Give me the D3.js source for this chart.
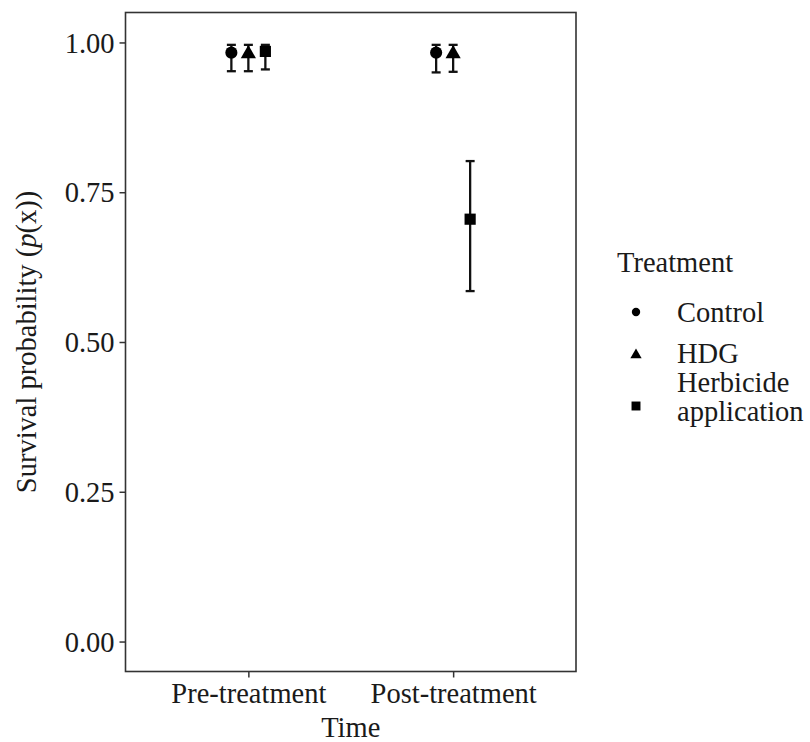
<!DOCTYPE html>
<html>
<head>
<meta charset="utf-8">
<script src="https://cdn.jsdelivr.net/npm/d3@7"></script>
<style>
  html, body { margin: 0; padding: 0; background: #fff; }
  svg { display: block; }
</style>
</head>
<body>
<svg id="chart" width="810" height="742"></svg>
<script>
// Survival estimates by time period and treatment
const times = ["Pre-treatment", "Post-treatment"];
const treatments = ["Control", "HDG", "Herbicide application"];
const estimate = {
  "Pre-treatment":  [0.983, 0.981, 0.985],
  "Post-treatment": [0.983, 0.981, 0.705]
};
const lower = {
  "Pre-treatment":  [0.952, 0.952, 0.955],
  "Post-treatment": [0.950, 0.951, 0.585]
};
const upper = {
  "Pre-treatment":  [0.996, 0.996, 0.996],
  "Post-treatment": [0.996, 0.996, 0.802]
};
const yTicks = [0, 0.25, 0.5, 0.75, 1];

const rows = [];
times.forEach(t => treatments.forEach((g, i) => {
  rows.push({ time: t, group: g, est: estimate[t][i], lo: lower[t][i], hi: upper[t][i] });
}));

const serif = "Liberation Serif";
const ink = "#1a1a1a";
const svg = d3.select("#chart");
const panel = { left: 125.5, right: 576, top: 12.5, bottom: 671.5 };
const fontSize = 28.5;

// discrete x: categories at 1,2 inside limits 0.4..2.6
const unit = (panel.right - panel.left) / 2.2;
const x = d3.scalePoint().domain(times)
  .range([panel.left + 0.6 * unit, panel.left + 1.6 * unit]);
const dodge = d3.scalePoint().domain(treatments).range([-17, 17]);
const y = d3.scaleLinear().domain([-0.05, 1.05]).range([panel.bottom, panel.top]);

const shapes = {
  "Control": { type: d3.symbolCircle, size: 115, legendSize: 55 },
  "HDG": { type: d3.symbolTriangle, size: 100, legendSize: 55 },
  "Herbicide application": { type: d3.symbolSquare, size: 125, legendSize: 80 }
};

// axes
const yAxis = d3.axisLeft(y).tickValues(yTicks).tickFormat(d3.format(".2f")).tickSize(6).tickPadding(5);
const gy = svg.append("g").attr("transform", `translate(${panel.left},0)`).call(yAxis);
const xAxis = d3.axisBottom(x).tickSize(6).tickPadding(8);
const gx = svg.append("g").attr("transform", `translate(0,${panel.bottom})`).call(xAxis);
[gx, gy].forEach(g => {
  g.attr("font-family", serif).attr("font-size", fontSize);
  g.select(".domain").remove();
  g.selectAll(".tick line").attr("stroke", "#333").attr("stroke-width", 1.5);
  g.selectAll(".tick text").attr("fill", ink).attr("font-family", serif).attr("font-size", fontSize);
});
gx.selectAll(".tick text").attr("dy", null).attr("y", 0).attr("transform", "translate(0,31.5)");
gy.selectAll(".tick text").attr("dy", "0.34em");

// panel border
svg.append("rect")
  .attr("x", panel.left).attr("y", panel.top)
  .attr("width", panel.right - panel.left).attr("height", panel.bottom - panel.top)
  .attr("fill", "none").attr("stroke", "#333").attr("stroke-width", 1.6);

// error bars
const capHalf = 4.5;
const bars = svg.append("g").attr("stroke", "#111").attr("stroke-width", 2.3).attr("fill", "none");
rows.forEach(r => {
  const cx = x(r.time) + dodge(r.group);
  const g = bars.append("g");
  g.append("line").attr("x1", cx).attr("x2", cx).attr("y1", y(r.lo)).attr("y2", y(r.hi));
  g.append("line").attr("x1", cx - capHalf).attr("x2", cx + capHalf).attr("y1", y(r.lo)).attr("y2", y(r.lo));
  g.append("line").attr("x1", cx - capHalf).attr("x2", cx + capHalf).attr("y1", y(r.hi)).attr("y2", y(r.hi));
});

// points
svg.append("g").selectAll("path").data(rows).join("path")
  .attr("transform", d => `translate(${x(d.time) + dodge(d.group)},${y(d.est)})`)
  .attr("d", d => d3.symbol().type(shapes[d.group].type).size(shapes[d.group].size)())
  .attr("fill", "#000");

// axis titles
svg.append("text")
  .attr("x", (panel.left + panel.right) / 2).attr("y", 737)
  .attr("text-anchor", "middle").attr("font-family", serif).attr("font-size", fontSize)
  .attr("fill", ink).text("Time");

const yt = svg.append("text")
  .attr("transform", `translate(36,${(panel.top + panel.bottom) / 2}) rotate(-90)`)
  .attr("text-anchor", "middle").attr("font-family", serif).attr("font-size", fontSize)
  .attr("fill", ink);
yt.append("tspan").text("Survival probability (");
yt.append("tspan").attr("font-style", "italic").text("p");
yt.append("tspan").text("(x))");

// legend
const legend = svg.append("g");
legend.append("text").attr("x", 617).attr("y", 272)
  .attr("font-family", serif).attr("font-size", fontSize).attr("fill", ink).text("Treatment");
const legendRows = [
  { group: "Control", symY: 312, lines: ["Control"], baseY: 322 },
  { group: "HDG", symY: 355, lines: ["HDG"], baseY: 363 },
  { group: "Herbicide application", symY: 406, lines: ["Herbicide", "application"], baseY: 392 }
];
legendRows.forEach(r => {
  legend.append("path")
    .attr("transform", `translate(636,${r.symY})`)
    .attr("d", d3.symbol().type(shapes[r.group].type).size(shapes[r.group].legendSize)())
    .attr("fill", "#000");
  const t = legend.append("text").attr("x", 677).attr("y", r.baseY)
    .attr("font-family", serif).attr("font-size", fontSize).attr("fill", ink);
  r.lines.forEach((ln, i) => t.append("tspan").attr("x", 677).attr("dy", i === 0 ? 0 : 29).text(ln));
});
</script>
</body>
</html>
